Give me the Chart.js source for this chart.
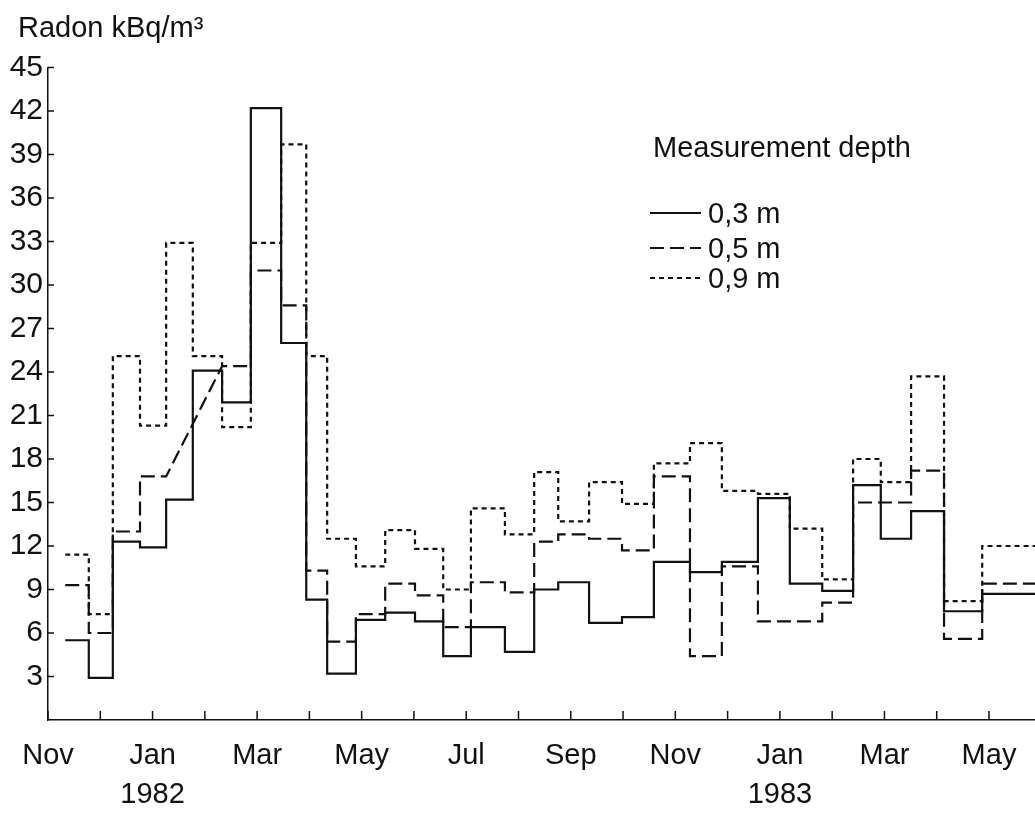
<!DOCTYPE html>
<html lang="en">
<head>
<meta charset="UTF-8">
<title>Radon in soil air, Nov 1981 - May 1983</title>
<script src="https://cdn.jsdelivr.net/npm/chart.js"></script>
<style>
  body { margin: 0; background: #fff; }
  #wrap { width: 1035px; height: 814px; }
</style>
</head>
<body>
<div id="wrap"><canvas id="radon" width="1035" height="814"></canvas></div>
<script>
// x is counted in months from Nov 1981 (0 = Nov 1981, 14 = Jan 1983)
// measurement period boundaries, shared by the three depths
const edges = [0.33, 0.78, 1.24, 1.76, 2.26, 2.77, 3.33, 3.88, 4.46, 4.94, 5.34, 5.89, 6.45, 7.02,
  7.56, 8.09, 8.74, 9.30, 9.76, 10.35, 10.98, 11.59, 12.28, 12.89, 13.58, 14.19, 14.81, 15.40,
  15.93, 16.51, 17.14, 17.87, 18.88];

// radon kBq/m3 per period
const depth03 = [5.5, 2.9, 12.3, 11.9, 15.2, 24.1, 21.9, 42.2, 26.0, 8.3, 3.2, 6.9, 7.4, 6.8,
  4.4, 6.4, 4.7, 9.0, 9.5, 6.7, 7.1, 10.9, 10.2, 10.9, 15.3, 9.4, 8.9, 16.2, 12.5, 14.4, 7.5, 8.7];
// null: no value, the line is drawn straight across the gap
const depth05 = [9.3, 6.0, 13.0, 16.8, null, null, 24.4, 31.0, 28.6, 10.3, 5.4, 7.3, 9.4, 8.6,
  6.4, 9.5, 8.8, 12.3, 12.8, 12.5, 11.7, 16.8, 4.4, 10.6, 6.8, 6.8, 8.1, 15.0, 15.0, 17.2, 5.6, 9.4];
const depth09 = [11.4, 7.3, 25.1, 20.3, 32.9, 25.1, 20.2, 32.9, 39.7, 25.1, 12.5, 10.6, 13.1, 11.8,
  9.0, 14.6, 12.8, 17.1, 13.7, 16.4, 14.9, 17.7, 19.1, 15.8, 15.6, 13.2, 9.7, 18.0, 16.4, 23.7, 8.2, 12.0];

const monthLabels = ['Nov', '', ['Jan', '1982'], '', 'Mar', '', 'May', '', 'Jul', '', 'Sep', '',
  'Nov', '', ['Jan', '1983'], '', 'Mar', '', 'May'];
const yTicks = [0, 3, 6, 9, 12, 15, 18, 21, 24, 27, 30, 33, 36, 39, 42, 45];
const seriesNames = ['0,3 m', '0,5 m', '0,9 m'];

const FONT = "'Liberation Sans', Arial, Helvetica, sans-serif";
const INK = '#111';

function steps(values) {
  const pts = [];
  values.forEach((v, i) => {
    if (v === null) return;
    pts.push({ x: edges[i], y: v }, { x: edges[i + 1], y: v });
  });
  return pts;
}

// ticks point into the plot, plus the free text and the legend
const extras = {
  id: 'extras',
  afterDraw(chart) {
    const { ctx, chartArea: a, scales: { x, y } } = chart;
    ctx.save();
    ctx.strokeStyle = INK;
    ctx.lineWidth = 1.5;
    ctx.beginPath();
    x.ticks.forEach(t => {
      const px = x.getPixelForValue(t.value);
      ctx.moveTo(px, a.bottom);
      ctx.lineTo(px, a.bottom - 9);
    });
    y.ticks.forEach(t => {
      if (t.value === 0) return;
      const py = y.getPixelForValue(t.value);
      ctx.moveTo(a.left, py);
      ctx.lineTo(a.left + 6, py);
    });
    ctx.stroke();

    ctx.fillStyle = INK;
    ctx.textAlign = 'left';
    ctx.textBaseline = 'alphabetic';
    ctx.font = '29px ' + FONT;
    ctx.fillText('Radon kBq/m\u00b3', 18, 37);
    ctx.fillText('Measurement depth', 653, 157);

    const rows = [223, 258, 288];
    chart.data.datasets.forEach((ds, i) => {
      const ly = rows[i] - 10;
      ctx.setLineDash(ds.borderDash || []);
      ctx.lineWidth = 2;
      ctx.beginPath();
      ctx.moveTo(650, ly);
      ctx.lineTo(701, ly);
      ctx.stroke();
      ctx.setLineDash([]);
      ctx.fillText(ds.label, 708, rows[i]);
    });
    ctx.restore();
  }
};

new Chart(document.getElementById('radon'), {
  type: 'line',
  data: {
    datasets: [
      { label: seriesNames[0], data: steps(depth03), borderDash: [] },
      { label: seriesNames[1], data: steps(depth05), borderDash: [14, 6] },
      { label: seriesNames[2], data: steps(depth09), borderDash: [5, 4] }
    ].map(ds => Object.assign(ds, {
      borderColor: INK,
      borderWidth: 2.2,
      pointRadius: 0,
      tension: 0,
      fill: false,
      borderJoinStyle: 'miter'
    }))
  },
  options: {
    responsive: false,
    animation: false,
    layout: { padding: { top: 67.5, right: 0, left: 0, bottom: 0 } },
    plugins: {
      legend: { display: false },
      title: { display: false },
      tooltip: { enabled: false }
    },
    scales: {
      x: {
        type: 'linear',
        min: 0,
        max: edges[edges.length - 1],
        grid: { display: false, drawTicks: false },
        border: { display: true, color: INK, width: 1.5 },
        afterBuildTicks: s => { s.ticks = monthLabels.map((_, i) => ({ value: i })); },
        afterFit: s => { s.height = 94; },
        ticks: {
          autoSkip: false,
          maxRotation: 0,
          padding: 16,
          color: INK,
          font: { family: FONT, size: 29, lineHeight: 1.35 },
          callback: v => monthLabels[v] ?? ''
        }
      },
      y: {
        min: 0,
        max: 45,
        grid: { display: false, drawTicks: false },
        border: { display: true, color: INK, width: 1.5 },
        afterBuildTicks: s => { s.ticks = yTicks.map(v => ({ value: v })); },
        afterFit: s => { s.width = 48; },
        ticks: {
          padding: 5,
          color: INK,
          font: { family: FONT, size: 30 },
          callback: v => (v === 0 ? '' : v)
        }
      }
    }
  },
  plugins: [extras]
});
</script>
</body>
</html>
